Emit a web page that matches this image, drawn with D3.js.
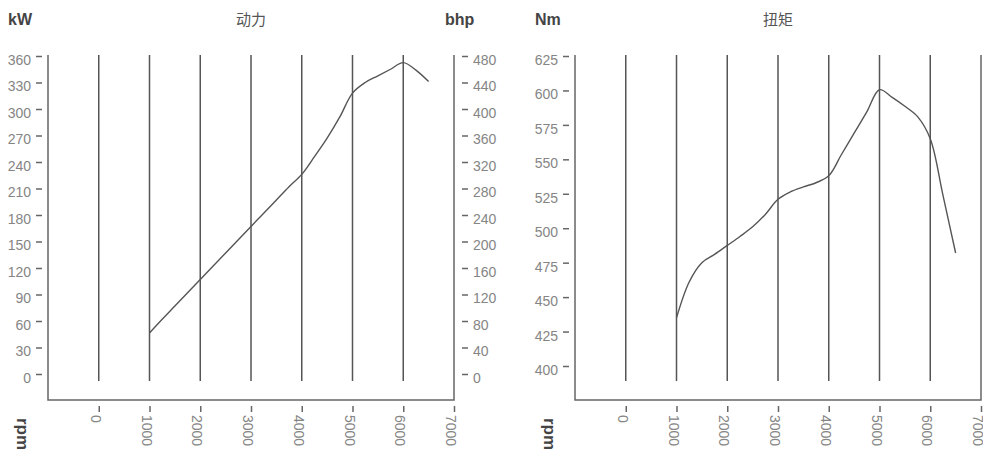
<!DOCTYPE html>
<html>
<head>
<meta charset="utf-8">
<script src="https://cdn.jsdelivr.net/npm/d3@7"></script>
<style>
  body { margin: 0; background: #fff; }
  svg { display: block; font-family: "Liberation Sans", Arial, sans-serif; }
  .axis text { fill: #858585; font-size: 14px; }
  .axis line { stroke: #666; stroke-width: 1.5; }
  .axis path { display: none; }
</style>
</head>
<body>
<script>
// rpm ticks shared by both charts
var rpmTicks = [0, 1000, 2000, 3000, 4000, 5000, 6000, 7000];
var gridRpm = [0, 1000, 2000, 3000, 4000, 5000, 6000];

// power curve (kW), read every 250 rpm
var powerRpm = [1000, 1250, 1500, 1750, 2000, 2250, 2500, 2750, 3000, 3250, 3500, 3750, 4000,
                4250, 4500, 4750, 5000, 5250, 5500, 5750, 6000, 6250, 6500];
var powerKw  = [46.5, 62, 77, 92, 107, 122, 137, 152, 167, 182, 197, 212, 226,
                246, 267, 291, 318, 330, 337.5, 345, 352.5, 344, 331];
var kwTicks  = [0, 30, 60, 90, 120, 150, 180, 210, 240, 270, 300, 330, 360];
var bhpTicks = [0, 40, 80, 120, 160, 200, 240, 280, 320, 360, 400, 440, 480];

// torque curve (Nm)
var torqueRpm = [1000, 1250, 1500, 1750, 2000, 2250, 2500, 2750, 3000, 3250, 3500, 3750, 4000,
                 4250, 4500, 4750, 5000, 5250, 5500, 5750, 6000, 6250, 6500];
var torqueNm  = [435, 461, 475, 481, 487.5, 494, 501, 510, 521, 526.5, 530, 533, 538,
                 553.5, 569, 584.5, 600.5, 595, 588.5, 581, 565, 524, 482];
var nmTicks   = [400, 425, 450, 475, 500, 525, 550, 575, 600, 625];

var W = 983, H = 454;
var svg = d3.select('body').append('svg').attr('width', W).attr('height', H);

var frameTop = 55, axisY = 400, gridBottom = 381;

function panel(left, right, title, unitLeft, unitRight, xs, ys, yScale, yTicks, y2Scale, y2Ticks) {
  var x = d3.scaleLinear().domain([-1000, 7000]).range([left, right]);
  var g = svg.append('g');

  // grid lines
  g.selectAll('.grid').data(gridRpm).enter().append('line')
    .attr('x1', d => x(d)).attr('x2', d => x(d))
    .attr('y1', frameTop).attr('y2', gridBottom)
    .style('stroke', '#555').style('stroke-width', 1.5);

  // frame: left, bottom, right
  g.append('path')
    .attr('d', 'M' + left + ',' + frameTop + 'V' + axisY + 'H' + right + 'V' + frameTop)
    .style('fill', 'none').style('stroke', '#666').style('stroke-width', 1.5);

  // curve
  var line = d3.line().x((d, i) => x(xs[i])).y(d => yScale(d)).curve(d3.curveCatmullRom.alpha(0.5));
  g.append('path').datum(ys).attr('d', line)
    .style('fill', 'none').style('stroke', '#555').style('stroke-width', 1.4);

  // left axis
  var ya = g.append('g').attr('class', 'axis').attr('transform', 'translate(' + (left - 6) + ',0)')
    .call(d3.axisLeft(yScale).tickValues(yTicks).tickSize(6).tickPadding(5));
  ya.selectAll('text').attr('y', 4).attr('dy', '0.32em');

  // right axis
  if (y2Scale) {
    var yb = g.append('g').attr('class', 'axis').attr('transform', 'translate(' + (right + 14) + ',0)')
      .call(d3.axisLeft(y2Scale).tickValues(y2Ticks).tickSize(6).tickPadding(0));
    yb.selectAll('text').attr('x', 5).attr('y', 4).attr('dy', '0.32em').attr('text-anchor', 'start');
  }

  // bottom axis
  var xa = g.append('g').attr('class', 'axis').attr('transform', 'translate(0,406)')
    .call(d3.axisBottom(x).tickValues(rpmTicks).tickSize(6).tickFormat(d3.format('d')));
  xa.selectAll('text').attr('x', 0).attr('y', 4).attr('dy', '0.32em')
    .attr('text-anchor', 'start').attr('transform', 'translate(0,9) rotate(90)');

  // labels
  g.append('text').attr('x', (left + right) / 2).attr('y', 25).attr('text-anchor', 'middle')
    .style('font-family', '"Noto Sans CJK SC", sans-serif').style('font-size', '15px').style('fill', '#555')
    .text(title);
  g.append('text').attr('x', left - 40).attr('y', 25)
    .style('font-size', '16px').style('font-weight', 'bold').style('fill', '#444').text(unitLeft);
  if (unitRight) {
    g.append('text').attr('x', right - 9).attr('y', 25)
      .style('font-size', '16px').style('font-weight', 'bold').style('fill', '#444').text(unitRight);
  }
  g.append('text').attr('transform', 'translate(' + (left - 25) + ',418) rotate(90)')
    .attr('dy', '0.35em')
    .style('font-size', '17px').style('font-weight', 'bold').style('fill', '#444').text('rpm');
}

var yKw = d3.scaleLinear().domain([0, 360]).range([374, 56]);
var yBhp = d3.scaleLinear().domain([0, 480]).range([374, 56]);
var yNm = d3.scaleLinear().domain([400, 625]).range([366, 56]);

panel(48, 454, '动力', 'kW', 'bhp', powerRpm, powerKw, yKw, kwTicks, yBhp, bhpTicks);
panel(575, 981, '扭矩', 'Nm', null, torqueRpm, torqueNm, yNm, nmTicks, null, null);
</script>
</body>
</html>
